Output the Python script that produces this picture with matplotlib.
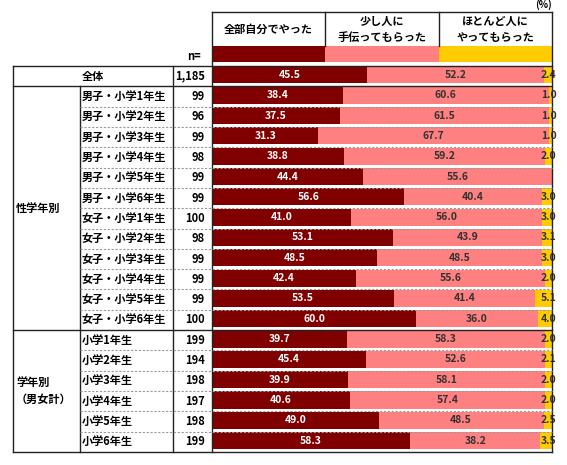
import matplotlib
matplotlib.use("Agg")
import matplotlib.pyplot as plt
from matplotlib.transforms import blended_transform_factory

plt.rcParams['font.family'] = ['Noto Sans CJK JP', 'DejaVu Sans']

# ---- data ----
row_labels = ["全体",
              "男子・小学1年生", "男子・小学2年生", "男子・小学3年生", "男子・小学4年生",
              "男子・小学5年生", "男子・小学6年生",
              "女子・小学1年生", "女子・小学2年生", "女子・小学3年生", "女子・小学4年生",
              "女子・小学5年生", "女子・小学6年生",
              "小学1年生", "小学2年生", "小学3年生", "小学4年生", "小学5年生", "小学6年生"]
n_values = ["1,185", "99", "96", "99", "98", "99", "99",
            "100", "98", "99", "99", "99", "100",
            "199", "194", "198", "197", "198", "199"]
all_self = [45.5, 38.4, 37.5, 31.3, 38.8, 44.4, 56.6,
            41.0, 53.1, 48.5, 42.4, 53.5, 60.0,
            39.7, 45.4, 39.9, 40.6, 49.0, 58.3]
little_help = [52.2, 60.6, 61.5, 67.7, 59.2, 55.6, 40.4,
               56.0, 43.9, 48.5, 55.6, 41.4, 36.0,
               58.3, 52.6, 58.1, 57.4, 48.5, 38.2]
mostly_others = [2.4, 1.0, 1.0, 1.0, 2.0, 0.0, 3.0,
                 3.0, 3.1, 3.0, 2.0, 5.1, 4.0,
                 2.0, 2.1, 2.0, 2.0, 2.5, 3.5]
series_names = ["全部自分でやった", "少し人に\n手伝ってもらった", "ほとんど人に\nやってもらった"]
group_names = ["性学年別", "学年別\n（男女計）"]

colors = ["#800000", "#FF8080", "#FFCC00"]
text_colors = ["white", "#333333", "#333333"]

W, H = 567, 465
fig = plt.figure(figsize=(W / 100, H / 100), dpi=100)

# chart area in pixels
x0, x1 = 212, 552
ytop, ybot = 66, 452
nrows = len(row_labels)

ax = fig.add_axes([x0 / W, 1 - ybot / H, (x1 - x0) / W, (ybot - ytop) / H])
ax.set_zorder(1)
ax.set_xlim(0, 100)
ax.set_ylim(nrows - 0.5, -0.5)
ax.axis("off")

# overlay in pixel coordinates for the table
ax0 = fig.add_axes([0, 0, 1, 1])
ax0.set_zorder(2)
ax0.patch.set_visible(False)
ax0.set_xlim(0, W)
ax0.set_ylim(H, 0)
ax0.axis("off")

ys = list(range(nrows))
bar_y = [y - 0.06 for y in ys]
lefts = [0] * nrows
for vals, c, tc in zip([all_self, little_help, mostly_others], colors, text_colors):
    ax.barh(bar_y, vals, left=lefts, height=0.84, color=c, edgecolor="none")
    for y, v, l in zip(bar_y, vals, lefts):
        if v <= 0:
            continue
        if c == colors[2]:
            xt = 99.0
        else:
            xt = l + v / 2
        ax.text(xt, y, f"{v:.1f}", ha="center", va="center", color=tc,
                fontsize=7.5, fontweight="bold", clip_on=False)
    lefts = [l + v for l, v in zip(lefts, vals)]

# table texts
blend = blended_transform_factory(ax0.transData, ax.transData)
tfont = dict(fontsize=8, fontweight="bold", color="black")
for i, (lab, n) in enumerate(zip(row_labels, n_values)):
    if i == 0:
        ax0.text(93, i, lab, ha="center", va="center", transform=blend, **tfont)
    else:
        ax0.text(82, i, lab, ha="left", va="center", transform=blend, **tfont)
    ax0.text(205, i, n, ha="right", va="center", transform=blend, **tfont)

ax0.text(16, 6.5, group_names[0], ha="left", va="center", transform=blend, **tfont)
ax0.text(16, 15.5, group_names[1], ha="left", va="center", transform=blend,
         linespacing=1.4, **tfont)
ax0.text(201, 57, "n=", ha="right", va="center", **tfont)
ax0.text(552, 5, "(%)", ha="right", va="center", fontsize=7, fontweight="bold")

# header with legend band
col_w = (x1 - x0) / 3
for k, (name, c) in enumerate(zip(series_names, colors)):
    cx = x0 + col_w * (k + 0.5)
    ax0.text(cx, 29, name, ha="center", va="center", linespacing=1.3, **tfont)
    ax0.add_patch(plt.Rectangle((x0 + col_w * k, 46), col_w, 16, color=c, lw=0))
    if k > 0:
        ax0.plot([x0 + col_w * k] * 2, [12, 46], color="#222222", lw=1)
ax0.plot([x0, x1], [12, 12], color="#222222", lw=1)
ax0.plot([x0, x0], [12, ybot], color="#222222", lw=1)
ax0.plot([x1, x1], [12, ybot], color="#222222", lw=1)

# table lines
solid = dict(color="#222222", lw=1, transform=blend)
for yb in [-0.5, 0.5, 12.5, nrows - 0.5]:
    ax0.plot([13, x1], [yb, yb], **solid)
ax0.plot([13, 13], [-0.5, nrows - 0.5], **solid)
ax0.plot([80, 80], [0.5, nrows - 0.5], **solid)
ax0.plot([173, 173], [-0.5, nrows - 0.5], **solid)
for yb in [y + 0.5 for y in ys[1:-1] if y != 12]:
    ax0.plot([80, x1], [yb, yb], color="#999999", lw=0.8, dashes=(2, 1.5),
             transform=blend)

fig.savefig("out.png", dpi=100)
